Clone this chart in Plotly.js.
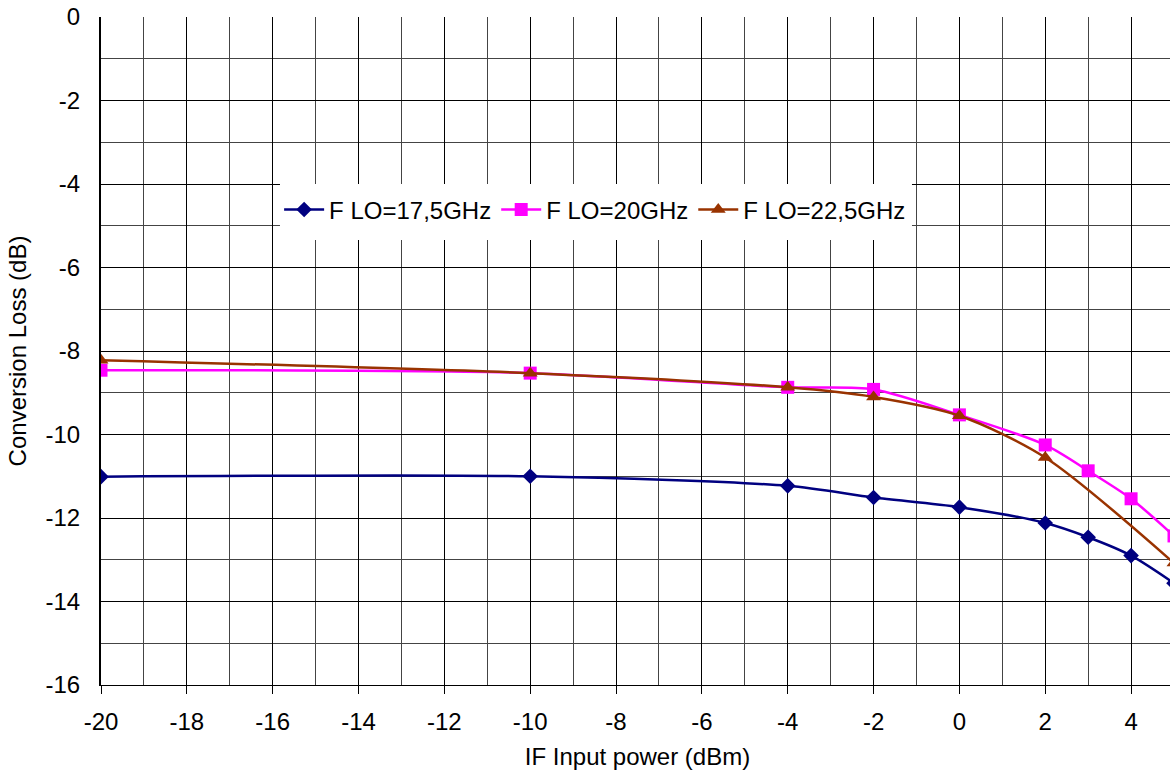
<!DOCTYPE html>
<html>
<head>
<meta charset="utf-8">
<script src="https://cdn.plot.ly/plotly-3.0.1.min.js"></script>
<style>
  html, body { margin: 0; padding: 0; overflow: hidden; background: #fff; }
  #chart { width: 1174px; height: 780px; }
</style>
</head>
<body>
<div id="chart"></div>
<script>
// IF input power (dBm)
const xBlue = [-20, -10, -4, -2, 0, 2, 3, 4, 5];
const yBlue = [-11.01, -11.0, -11.23, -11.51, -11.74, -12.12, -12.46, -12.9, -13.56];

const xMagenta = [-20, -10, -4, -2, 0, 2, 3, 4, 5];
const yMagenta = [-8.46, -8.53, -8.87, -8.92, -9.53, -10.25, -10.87, -11.54, -12.43];

const xBrown = [-20, -10, -4, -2, 0, 2, 5];
const yBrown = [-8.22, -8.53, -8.87, -9.1, -9.55, -10.55, -13.08];

const seriesNames = ['F LO=17,5GHz', 'F LO=20GHz', 'F LO=22,5GHz'];
const xTickVals = [-20, -18, -16, -14, -12, -10, -8, -6, -4, -2, 0, 2, 4];
const xTickText = ['-20', '-18', '-16', '-14', '-12', '-10', '-8', '-6', '-4', '-2', '0', '2', '4'];
const yTickVals = [0, -2, -4, -6, -8, -10, -12, -14, -16];
const yTickText = ['0', '-2', '-4', '-6', '-8', '-10', '-12', '-14', '-16'];

const FONT = 'Liberation Sans, Arial, sans-serif';

const traces = [
  {
    x: xBlue, y: yBlue, name: seriesNames[0], type: 'scatter', mode: 'lines+markers',
    line: { color: '#000080', width: 2.5, shape: 'spline', smoothing: 0.8 },
    marker: { symbol: 'diamond', size: 12, color: '#000080' }
  },
  {
    x: xMagenta, y: yMagenta, name: seriesNames[1], type: 'scatter', mode: 'lines+markers',
    line: { color: '#FF00FF', width: 2.5, shape: 'spline', smoothing: 0.8 },
    marker: { symbol: 'square', size: 13, color: '#FF00FF' }
  },
  {
    x: xBrown, y: yBrown, name: seriesNames[2], type: 'scatter', mode: 'lines+markers',
    line: { color: '#993300', width: 2.5, shape: 'spline', smoothing: 0.8 },
    marker: { symbol: 'triangle-up', size: 13, color: '#993300' }
  }
];

const layout = {
  width: 1174,
  height: 780,
  margin: { l: 101, r: 0, t: 17, b: 95 },
  paper_bgcolor: '#ffffff',
  plot_bgcolor: '#ffffff',
  font: { family: FONT, size: 24, color: '#000000' },
  showlegend: true,
  legend: {
    orientation: 'h',
    x: 0.166, y: 0.745, xanchor: 'left', yanchor: 'top',
    bgcolor: 'rgba(0,0,0,0)', borderwidth: 0,
    font: { family: FONT, size: 24, color: '#000000' },
    itemwidth: 40
  },
  shapes: [
    {
      type: 'rect', xref: 'paper', yref: 'paper', layer: 'above',
      x0: 0.1668, x1: 0.7558, y0: 0.666, y1: 0.750,
      fillcolor: '#ffffff', line: { width: 0 }
    }
  ],
  xaxis: {
    range: [-20, 5],
    tickmode: 'array', tickvals: xTickVals, ticktext: xTickText,
    ticks: 'outside', ticklen: 8, tickcolor: '#000', tickwidth: 1,
    ticklabelstandoff: 7,
    showgrid: true, gridcolor: '#000000', gridwidth: 1,
    minor: { dtick: 1, showgrid: true, gridcolor: '#444444', gridwidth: 1 },
    showline: true, linecolor: '#000000', linewidth: 1,
    zeroline: false,
    title: { text: 'IF Input power (dBm)', font: { family: FONT, size: 24 }, standoff: 14 },
    automargin: false
  },
  yaxis: {
    range: [-16, 0],
    tickmode: 'array', tickvals: yTickVals, ticktext: yTickText,
    ticks: '', ticklabelstandoff: 14,
    showgrid: true, gridcolor: '#000000', gridwidth: 1,
    minor: { dtick: 1, showgrid: true, gridcolor: '#444444', gridwidth: 1 },
    showline: true, linecolor: '#000000', linewidth: 2,
    zeroline: false,
    title: { text: 'Conversion Loss (dB)', font: { family: FONT, size: 24 }, standoff: 12 },
    automargin: false
  }
};

Plotly.newPlot('chart', traces, layout, { displayModeBar: false, staticPlot: true });
</script>
</body>
</html>
